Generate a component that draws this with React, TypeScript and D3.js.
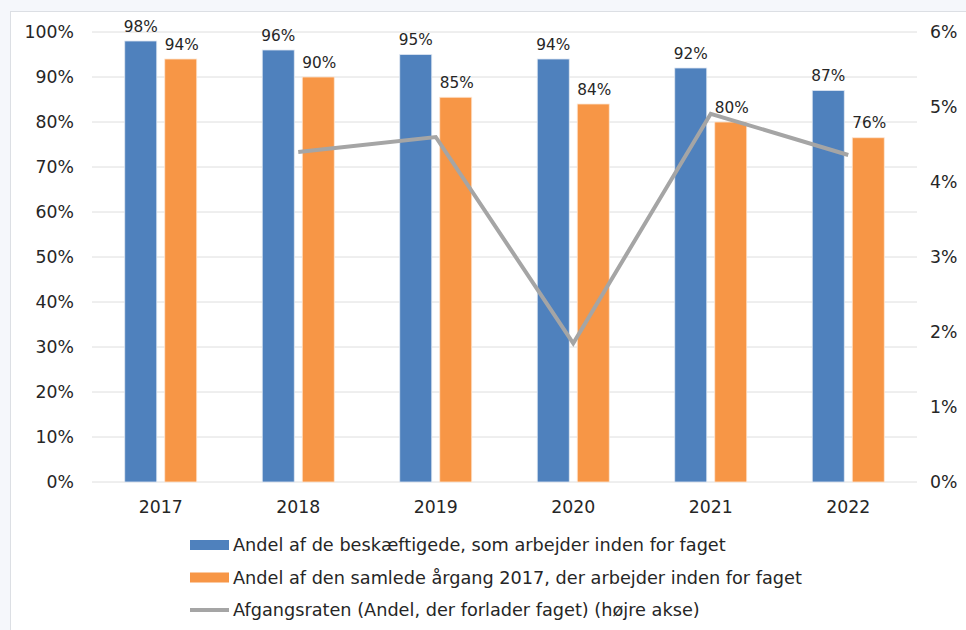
import React from "react";
import * as d3 from "d3";

const years = ["2017", "2018", "2019", "2020", "2021", "2022"];
const employedShare = [0.98, 0.96, 0.95, 0.94, 0.92, 0.87];
const cohortShare = [0.94, 0.90, 0.855, 0.84, 0.80, 0.765];
const cohortLabels = ["94%", "90%", "85%", "84%", "80%", "76%"];
const employedLabels = ["98%", "96%", "95%", "94%", "92%", "87%"];
const attritionRate: (number | null)[] = [null, 0.044, 0.046, 0.0185, 0.0491, 0.0436];
const leftTicks = [0, 0.1, 0.2, 0.3, 0.4, 0.5, 0.6, 0.7, 0.8, 0.9, 1.0];
const rightTicks = [0, 0.01, 0.02, 0.03, 0.04, 0.05, 0.06];
const legendLabels = [
  "Andel af de beskæftigede, som arbejder inden for faget",
  "Andel af den samlede årgang 2017, der arbejder inden for faget",
  "Afgangsraten (Andel, der forlader faget) (højre akse)",
];

const W = 966;
const H = 630;
const BLUE = "#4f81bd";
const ORANGE = "#f79646";
const GRAY = "#a5a5a5";
const FONT = "DejaVu Sans, Verdana, sans-serif";

export default function App() {
  const left = 92, right = 917, top = 32, bottom = 482;
  const x = d3.scaleBand<string>().domain(years).range([left, right]).paddingInner(0).paddingOuter(0);
  const yL = d3.scaleLinear().domain([0, 1]).range([bottom, top]);
  const yR = d3.scaleLinear().domain([0, 0.06]).range([bottom, top]);
  const barW = 32;
  const gap = 8;
  const cx = (y: string) => (x(y) as number) + x.bandwidth() / 2;
  const line = d3
    .line<[string, number | null]>()
    .defined((d) => d[1] !== null)
    .x((d) => cx(d[0]))
    .y((d) => yR(d[1] as number));
  const lineData: [string, number | null][] = years.map((y, i) => [y, attritionRate[i]]);
  const pct0 = d3.format(".0%");

  return (
    <svg
      width={W}
      height={H}
      style={{ position: "absolute", left: 0, top: 0, fontFamily: FONT }}
    >
      <rect x={0} y={0} width={W} height={H} fill="#f5f7fb" />
      <rect x={10.5} y={11.5} width={W} height={H} fill="#ffffff" stroke="#dcdfe4" strokeWidth={1} />
      {leftTicks.map((t) => (
        <g key={"l" + t}>
          <line x1={left} x2={right} y1={yL(t)} y2={yL(t)} stroke="#dedede" strokeWidth={1} />
          <text x={74} y={yL(t) + 6} textAnchor="end" fontSize={17.3} fill="#262626">
            {pct0(t)}
          </text>
        </g>
      ))}
      {rightTicks.map((t) => (
        <text key={"r" + t} x={930} y={yR(t) + 6} textAnchor="start" fontSize={17.3} fill="#262626">
          {pct0(t)}
        </text>
      ))}
      {years.map((yr, i) => (
        <g key={yr}>
          <rect
            x={cx(yr) - gap / 2 - barW}
            y={yL(employedShare[i])}
            width={barW}
            height={yL(0) - yL(employedShare[i])}
            fill={BLUE}
            stroke="#dfe7f2"
            strokeWidth={0.8}
          />
          <rect
            x={cx(yr) + gap / 2}
            y={yL(cohortShare[i])}
            width={barW}
            height={yL(0) - yL(cohortShare[i])}
            fill={ORANGE}
            stroke="#fde6d3"
            strokeWidth={0.8}
          />
          <text x={cx(yr) - gap / 2 - barW / 2} y={yL(employedShare[i]) - 9.5} textAnchor="middle" fontSize={15.3} fill="#262626">
            {employedLabels[i]}
          </text>
          <text x={cx(yr) + gap / 2 + barW / 2 + 1} y={yL(cohortShare[i]) - 9.5} textAnchor="middle" fontSize={15.3} fill="#262626">
            {cohortLabels[i]}
          </text>
          <text x={cx(yr)} y={513} textAnchor="middle" fontSize={17.3} fill="#262626">
            {yr}
          </text>
        </g>
      ))}
      <path d={line(lineData) || ""} fill="none" stroke={GRAY} strokeWidth={4} strokeLinejoin="miter" />
      {legendLabels.map((lab, i) => {
        const ly = 545 + i * 32.5;
        return (
          <g key={lab}>
            {i < 2 ? (
              <rect x={190} y={ly - 5} width={39} height={10} fill={i === 0 ? BLUE : ORANGE} />
            ) : (
              <line x1={190} x2={229} y1={ly} y2={ly} stroke={GRAY} strokeWidth={4} />
            )}
            <text x={233} y={ly + 6} fontSize={17.7} fill="#262626">
              {lab}
            </text>
          </g>
        );
      })}
    </svg>
  );
}
